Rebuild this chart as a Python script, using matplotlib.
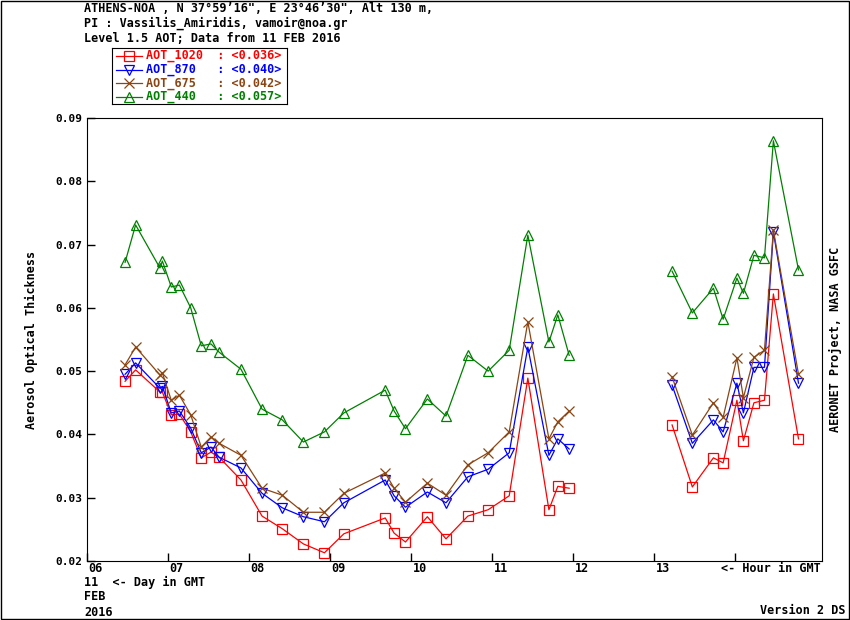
import numpy as np
import matplotlib.pyplot as plt

# hours in GMT, 11 FEB 2016
hours = [6.47, 6.60, 6.90, 6.93, 7.04, 7.14, 7.28, 7.41, 7.53, 7.63, 7.90, 8.16, 8.41,
         8.67, 8.93, 9.17, 9.68, 9.79, 9.93, 10.20, 10.43, 10.70, 10.95, 11.21, 11.44,
         11.70, 11.81, 11.95,
         13.22, 13.47, 13.73, 13.85, 14.02, 14.10, 14.23, 14.36, 14.47, 14.78]

aot_440 = [.0672, .0731, .0663, .0674, .0633, .0636, .0600, .0540, .0543, .0530, .0503, .0440, .0423,
           .0388, .0404, .0434, .0470, .0437, .0409, .0456, .0429, .0525, .0500, .0533, .0715,
           .0546, .0589, .0525,
           .0658, .0592, .0631, .0582, .0647, .0623, .0683, .0679, .0864, .0660]
aot_675 = [.0510, .0538, .0494, .0497, .0454, .0462, .0431, .0380, .0396, .0386, .0367, .0315, .0304,
           .0277, .0277, .0307, .0339, .0315, .0293, .0323, .0304, .0352, .0371, .0404, .0578,
           .0393, .0420, .0437,
           .0491, .0399, .0450, .0427, .0521, .0458, .0522, .0533, .0723, .0495]
aot_870 = [.0495, .0513, .0473, .0476, .0434, .0437, .0410, .0371, .0380, .0364, .0347, .0307, .0284,
           .0270, .0262, .0292, .0328, .0303, .0285, .0309, .0292, .0333, .0345, .0371, .0538,
           .0367, .0393, .0377,
           .0478, .0386, .0423, .0404, .0481, .0434, .0506, .0506, .0720, .0481]
aot_1020 = [.0484, .0502, .0467, .0467, .0431, .0432, .0404, .0363, .0372, .0364, .0328, .0271, .0251,
            .0227, .0213, .0243, .0268, .0244, .0230, .0270, .0235, .0271, .0281, .0303, .0489,
            .0281, .0318, .0315,
            .0415, .0317, .0363, .0355, .0454, .0390, .0450, .0454, .0622, .0393]

series = [
    ('AOT_1020', ': <0.036>', aot_1020, 'red', 's'),
    ('AOT_870 ', ': <0.040>', aot_870, 'blue', 'v'),
    ('AOT_675 ', ': <0.042>', aot_675, '#8B4513', 'x'),
    ('AOT_440 ', ': <0.057>', aot_440, 'green', '^'),
]

plt.rcParams['font.family'] = 'DejaVu Sans Mono'
plt.rcParams['font.weight'] = 'bold'
plt.rcParams['font.size'] = 8

fig = plt.figure(figsize=(8.5, 6.2), dpi=100)
ax = fig.add_axes([87/850, 59/620, 735/850, 443/620])

split = 28
for name, mean, vals, col, mk in series:
    for a, b in [(0, split), (split, len(hours))]:
        ax.plot(hours[a:b], vals[a:b], color=col, lw=0.9, marker=mk, ms=7,
                mfc='none', mec=col, mew=0.9)

ax.set_xlim(6, 15.07)
ax.set_ylim(0.02, 0.09)
ax.set_xticks(range(6, 15))
ax.set_xticklabels([])
ax.set_yticks(np.arange(0.02, 0.0901, 0.01))
ax.set_yticklabels(['%.2f' % v for v in np.arange(0.02, 0.0901, 0.01)])
ax.tick_params(direction='in', length=6, width=1, labelsize=8)
for h in range(6, 14):
    ax.text(h + 0.02, -0.002, '%02d' % h, transform=ax.get_xaxis_transform(),
            va='top', ha='left', fontsize=8.5, fontweight='bold')
ax.text(15.05, -0.002, '<- Hour in GMT', transform=ax.get_xaxis_transform(),
        va='top', ha='right', fontsize=8.5, fontweight='bold')
ax.set_ylabel('Aerosol Optical Thickness', fontsize=8.5, fontweight='bold', labelpad=12)
ax.text(1.01, 0.5, 'AERONET Project, NASA GSFC', transform=ax.transAxes, rotation=90,
        va='center', ha='left', fontsize=8.5, fontweight='bold')

# header text
hdr = ['ATHENS-NOA , N 37\u00b059\u201916", E 23\u00b046\u201930", Alt 130 m,',
       'PI : Vassilis_Amiridis, vamoir@noa.gr',
       'Level 1.5 AOT; Data from 11 FEB 2016']
for i, t in enumerate(hdr):
    fig.text(84/850, 1 - (8 + 15*i)/620, t, va='center', ha='left', fontsize=8.5, fontweight='bold')

for i, t in enumerate(['11  <- Day in GMT', 'FEB', '2016']):
    fig.text(84/850, 1 - (582 + 15*i)/620, t, va='center', ha='left', fontsize=8.5, fontweight='bold')
fig.text(846/850, 1 - 610/620, 'Version 2 DS', va='center', ha='right', fontsize=8.5, fontweight='bold')

# legend box
lg = fig.add_axes([112/850, 1 - 104/620, 175/850, 56/620])
lg.set_xlim(0, 175)
lg.set_ylim(56, 0)
lg.set_xticks([])
lg.set_yticks([])
for i, (name, mean, vals, col, mk) in enumerate(series):
    y = 8 + 13.5*i
    lg.plot([4, 30], [y, y], color=col, lw=0.9)
    lg.plot([17], [y], color=col, marker=mk, ms=7, mfc='none', mec=col, mew=0.9)
    lg.text(34, y, name + '  ' + mean, color=col, va='center', ha='left',
            fontsize=8.5, fontweight='bold')

# outer border
fig.patches.append(plt.Rectangle((0.001, 0.001), 0.998, 0.998, transform=fig.transFigure,
                                 fill=False, ec='black', lw=1))

fig.savefig('out.png', dpi=100)
